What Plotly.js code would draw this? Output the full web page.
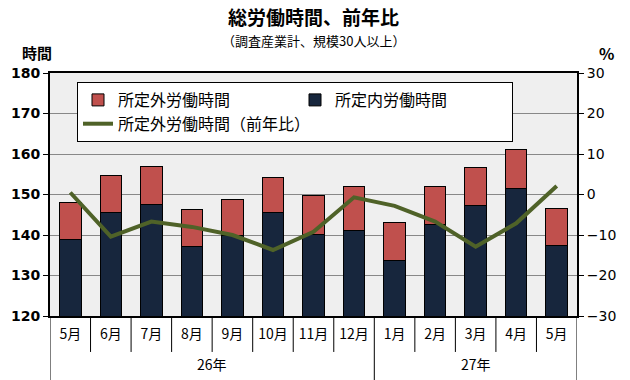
<!DOCTYPE html>
<html><head><meta charset="utf-8">
<script src="https://cdn.plot.ly/plotly-3.0.1.min.js"></script>
<style>body{margin:0;}#chart{width:630px;height:380px;}</style>
</head><body><div id="chart"></div>
<script>
const years = ['26年','26年','26年','26年','26年','26年','26年','26年','27年','27年','27年','27年','27年'];
const months = ['5月','6月','7月','8月','9月','10月','11月','12月','1月','2月','3月','4月','5月'];
const scheduled = [138.9, 145.6, 147.5, 137.2, 139.9, 145.6, 140.1, 141.1, 133.7, 142.6, 147.3, 151.6, 137.4];
const overtime = [9.1, 9.1, 9.4, 9.1, 8.9, 8.6, 9.7, 10.9, 9.4, 9.4, 9.4, 9.5, 9.2];
const overtimeYoY = [0.5, -10.4, -6.7, -8.0, -10.0, -13.7, -9.2, -0.7, -2.8, -6.7, -12.9, -7.1, 2.1];

const font = "'Noto Sans CJK JP', sans-serif";
const numFont = "'DejaVu Sans', sans-serif";
const idx = months.map((m, i) => i);

const traces = [
  {type:'bar', name:'所定内労働時間', x:idx, y:scheduled,
   marker:{color:'#17263d', line:{color:'#000', width:1}}, legendrank:2},
  {type:'bar', name:'所定外労働時間', x:idx, y:overtime,
   marker:{color:'#c0504d', line:{color:'#000', width:1}}, legendrank:1},
  {type:'scatter', mode:'lines', name:'所定外労働時間（前年比）', x:idx, y:overtimeYoY,
   yaxis:'y2', line:{color:'#4f6228', width:4}, legendrank:3}
];

// dividers and year labels derived from the category arrays
const shapes = [];
const annotations = [];
for (let i = 0; i <= months.length; i++) {
  const isYearEdge = i === 0 || i === months.length || years[i] !== years[i - 1];
  shapes.push({type:'line', xref:'x', yref:'paper', x0:i - 0.5, x1:i - 0.5,
               y0:0, y1:isYearEdge ? -0.32 : -0.148, line:{color:'#000', width:1}});
}
const uniqYears = [...new Set(years)];
uniqYears.forEach(y => {
  const ids = idx.filter(i => years[i] === y);
  const mid = (ids[0] + ids[ids.length - 1]) / 2;
  annotations.push({text:y, xref:'x', yref:'paper', x:mid, y:-0.198, xanchor:'center', yanchor:'middle',
                    showarrow:false, font:{size:14, family:font}});
});
annotations.push(
  {text:'<b>総労働時間、前年比</b>', xref:'paper', yref:'paper', x:0.5, y:(316 - 16) / 243, xanchor:'center', yanchor:'middle', showarrow:false, font:{size:19, family:font}},
  {text:'（調査産業計、規模30人以上）', xref:'paper', yref:'paper', x:0.5, y:(316 - 41) / 243, xanchor:'center', yanchor:'middle', showarrow:false, font:{size:13, family:font}},
  {text:'<b>時間</b>', xref:'paper', yref:'paper', x:(37 - 50) / 527, y:(316 - 53) / 243, xanchor:'center', yanchor:'middle', showarrow:false, font:{size:15, family:font}},
  {text:'<b>%</b>', xref:'paper', yref:'paper', x:(606 - 50) / 527, y:(316 - 53) / 243, xanchor:'center', yanchor:'middle', showarrow:false, font:{size:16, family:font}}
);

const layout = {
  width:630, height:380,
  margin:{l:50, r:53, t:73, b:64},
  barmode:'stack', bargap:0.47,
  paper_bgcolor:'#fff', plot_bgcolor:'#efefef',
  font:{family:font, color:'#000', size:13},
  showlegend:true,
  legend:{orientation:'h', traceorder:'normal', x:(77 - 50) / 527, xanchor:'left', y:(316 - 82) / 243, yanchor:'top',
          bgcolor:'#fff', bordercolor:'#000', borderwidth:1,
          entrywidth:172, font:{size:16, family:font}, itemwidth:30},
  xaxis:{range:[-0.5, months.length - 0.5], tickvals:idx, ticktext:months, ticks:'',
         showline:true, linecolor:'#000', linewidth:2, mirror:true, showgrid:false, zeroline:false,
         ticklabelstandoff:4, tickfont:{size:14, family:font}},
  yaxis:{range:[120,180], dtick:10, showline:true, linecolor:'#000', linewidth:2,
         ticks:'outside', ticklen:5, tickcolor:'#000',
         showgrid:true, gridcolor:'#888', gridwidth:1, zeroline:false,
         tickfont:{size:14, family:numFont, weight:'bold'}},
  yaxis2:{range:[-30,30], dtick:10, overlaying:'y', side:'right', showline:true, linecolor:'#000', linewidth:2,
          ticks:'outside', ticklen:5, tickcolor:'#000', showgrid:false, zeroline:false,
          tickfont:{size:14, family:numFont}},
  shapes:shapes,
  annotations:annotations
};
Plotly.newPlot('chart', traces, layout, {displayModeBar:false, responsive:false});
</script></body></html>
